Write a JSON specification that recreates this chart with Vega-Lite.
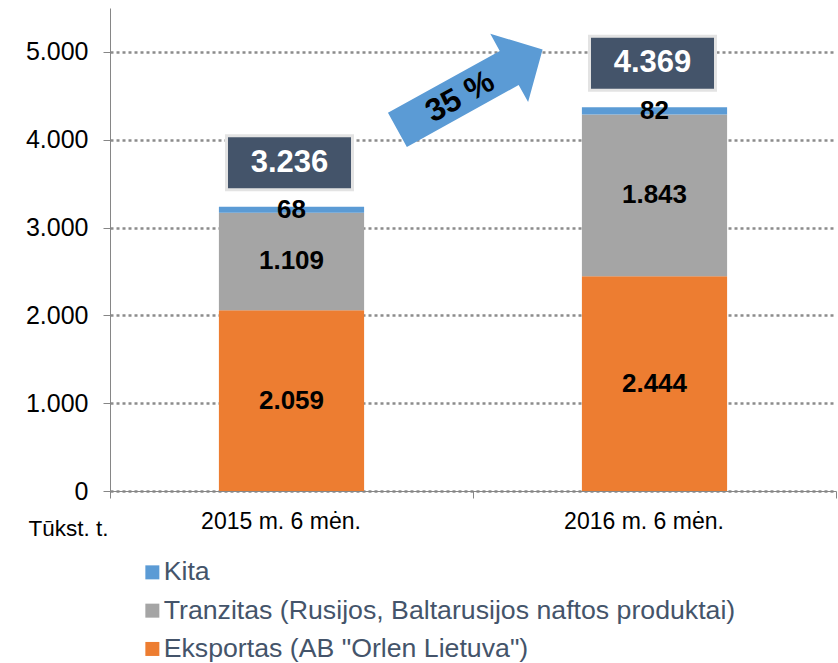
{
  "$schema": "https://vega.github.io/schema/vega-lite/v6.json",
  "width": 726,
  "height": 483,
  "autosize": "none",
  "padding": {"left": 110, "top": 8, "right": 2, "bottom": 172},
  "background": "white",
  "config": {
    "locale": {"number": {"decimal": ",", "thousands": ".", "grouping": [3], "currency": ["", " €"]}},
    "font": "Liberation Sans",
    "view": {"stroke": null}
  },
  "data": {
    "values": [
      {"period": "2015 m. 6 mėn.", "cat": "Eksportas (AB \"Orlen Lietuva\")", "v": 2059, "o": 1},
      {"period": "2015 m. 6 mėn.", "cat": "Tranzitas (Rusijos, Baltarusijos naftos produktai)", "v": 1109, "o": 2},
      {"period": "2015 m. 6 mėn.", "cat": "Kita", "v": 68, "o": 3},
      {"period": "2016 m. 6 mėn.", "cat": "Eksportas (AB \"Orlen Lietuva\")", "v": 2444, "o": 1},
      {"period": "2016 m. 6 mėn.", "cat": "Tranzitas (Rusijos, Baltarusijos naftos produktai)", "v": 1843, "o": 2},
      {"period": "2016 m. 6 mėn.", "cat": "Kita", "v": 82, "o": 3}
    ]
  },
  "layer": [
    {
      "mark": {"type": "bar", "width": {"band": 0.4}},
      "encoding": {
        "x": {
          "field": "period", "type": "nominal", "title": null,
          "scale": {"paddingInner": 0, "paddingOuter": 0},
          "axis": {
            "title": null, "labelAngle": 0, "tickBand": "extent", "tickSize": 7,
            "labelFontSize": 23, "labelColor": "black", "labelPadding": 12, "labelOffset": -11,
            "domainColor": "#868686", "tickColor": "#868686"
          }
        },
        "y": {
          "field": "v", "type": "quantitative", "stack": "zero", "title": "Tūkst. t.",
          "scale": {"domain": [0, 5500], "nice": false},
          "axis": {
            "values": [0, 1000, 2000, 3000, 4000, 5000], "format": ",d",
            "labelFontSize": 25, "labelColor": "black", "labelPadding": 15,
            "tickSize": 7, "tickColor": "#868686", "domainColor": "#868686",
            "gridDash": [3, 3], "gridColor": "#8c8c8c", "gridWidth": 2.5,
            "title": "Tūkst. t.", "titleAngle": 0, "titleX": -42, "titleY": 520,
            "titleAlign": "center", "titleBaseline": "middle", "titleFontSize": 22.5,
            "titleFontWeight": "normal", "titleColor": "black"
          }
        },
        "color": {
          "field": "cat", "type": "nominal",
          "scale": {
            "domain": ["Kita", "Tranzitas (Rusijos, Baltarusijos naftos produktai)", "Eksportas (AB \"Orlen Lietuva\")"],
            "range": ["#5B9BD5", "#A5A5A5", "#ED7D31"]
          },
          "legend": {
            "orient": "none", "legendX": 29, "legendY": 551, "direction": "vertical",
            "title": null, "symbolType": "square", "symbolSize": 196, "symbolStrokeWidth": 0,
            "labelFontSize": 26.7, "labelColor": "#44546A", "rowPadding": 10.3,
            "labelOffset": -2, "padding": 0, "labelLimit": 750
          }
        },
        "order": {"field": "o", "type": "quantitative"}
      }
    },
    {
      "mark": {"type": "text", "fontWeight": "bold", "fontSize": 26, "color": "black", "baseline": "middle"},
      "encoding": {
        "x": {"field": "period", "type": "nominal", "title": null},
        "y": {"field": "v", "type": "quantitative", "stack": "zero", "bandPosition": 0.5, "title": "Tūkst. t."},
        "order": {"field": "o", "type": "quantitative"},
        "text": {"field": "v", "type": "quantitative", "format": ",d"}
      }
    },
    {
      "transform": [{"aggregate": [{"op": "sum", "field": "v", "as": "total"}], "groupby": ["period"]}],
      "layer": [
        {
          "mark": {
            "type": "point", "filled": true, "fill": "#44546A", "opacity": 1,
            "stroke": "#E3E3E3", "strokeWidth": 3, "strokeOpacity": 1,
            "shape": "M-1,-0.4286H1V0.4286H-1Z", "size": 15876, "yOffset": -44, "xOffset": -2
          },
          "encoding": {
            "x": {"field": "period", "type": "nominal", "title": null},
            "y": {"field": "total", "type": "quantitative", "title": "Tūkst. t."}
          }
        },
        {
          "mark": {"type": "text", "fontWeight": "bold", "fontSize": 31, "color": "white", "baseline": "middle", "yOffset": -44, "xOffset": -2},
          "encoding": {
            "x": {"field": "period", "type": "nominal", "title": null},
            "y": {"field": "total", "type": "quantitative", "title": "Tūkst. t."},
            "text": {"field": "total", "type": "quantitative", "format": ",d"}
          }
        }
      ]
    },
    {
      "data": {"values": [{"period": "2015 m. 6 mėn.", "y": 4570, "label": "35 %"}]},
      "layer": [
        {
          "mark": {
            "type": "point", "filled": true, "fill": "#5B9BD5", "opacity": 1, "strokeWidth": 0,
            "shape": "M-1,-0.235H0.54V-0.47L1,0L0.54,0.47V0.235H-1Z", "size": 27556, "angle": -29, "xOffset": -3
          },
          "encoding": {
            "x": {"field": "period", "type": "nominal", "bandPosition": 1, "title": null},
            "y": {"field": "y", "type": "quantitative", "title": "Tūkst. t."}
          }
        },
        {
          "mark": {"type": "text", "fontWeight": "bold", "fontSize": 32, "color": "black", "baseline": "middle", "angle": -29, "xOffset": -13, "yOffset": 7},
          "encoding": {
            "x": {"field": "period", "type": "nominal", "bandPosition": 1, "title": null},
            "y": {"field": "y", "type": "quantitative", "title": "Tūkst. t."},
            "text": {"field": "label"}
          }
        }
      ]
    }
  ]
}
